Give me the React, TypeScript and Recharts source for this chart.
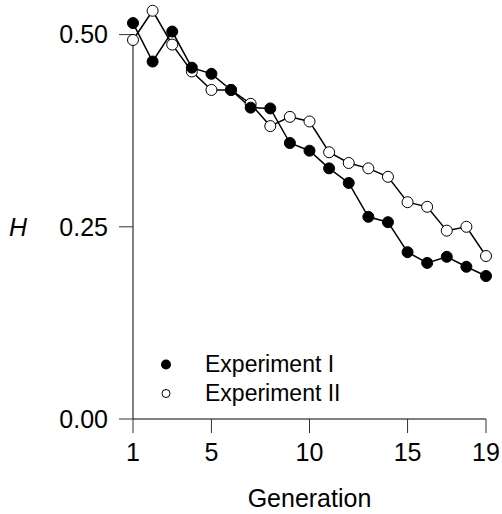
import React from 'react';
import { LineChart, Line, XAxis, YAxis, ReferenceLine, Legend, Label } from 'recharts';

const generations = [1, 2, 3, 4, 5, 6, 7, 8, 9, 10, 11, 12, 13, 14, 15, 16, 17, 18, 19];
const experimentI = [0.515, 0.465, 0.504, 0.457, 0.449, 0.428, 0.405, 0.404, 0.359, 0.349, 0.326, 0.307, 0.263, 0.256, 0.217, 0.203, 0.211, 0.198, 0.186];
const experimentII = [0.493, 0.531, 0.487, 0.452, 0.428, 0.428, 0.410, 0.381, 0.393, 0.387, 0.347, 0.333, 0.326, 0.315, 0.282, 0.276, 0.245, 0.250, 0.212];
const xTicks = [1, 5, 10, 15, 19];
const yTicks = [0, 0.25, 0.5];
const seriesNames = ['Experiment I', 'Experiment II'];

const data = generations.map((g, i) => ({ gen: g, e1: experimentI[i], e2: experimentII[i] }));

const FONT = '"Liberation Sans", Arial, sans-serif';

const LegendContent = () => (
  <div style={{ fontFamily: FONT, fontSize: 23, color: '#000' }}>
    {seriesNames.map((name, i) => (
      <div key={name} style={{ display: 'flex', alignItems: 'center', height: 29, lineHeight: '29px' }}>
        <svg width={32} height={29} style={{ display: 'block' }}>
          {i === 0 ? (
            <circle cx={16} cy={14.5} r={5} fill="#000" />
          ) : (
            <circle cx={16} cy={14.5} r={4} fill="#fff" stroke="#000" strokeWidth={1} />
          )}
        </svg>
        <span style={{ marginLeft: 23, whiteSpace: 'nowrap' }}>{name}</span>
      </div>
    ))}
  </div>
);

const HLabel = (props: any) => {
  const vb = props.viewBox || {};
  const y = vb.y + vb.height * (1 - 0.25 / 0.545);
  return (
    <text x={18} y={y} textAnchor="middle" dominantBaseline="central" fontFamily={FONT} fontSize={25} fontStyle="italic" fill="#000">
      H
    </text>
  );
};

export default function App() {
  return (
    <div style={{ position: 'absolute', left: 0, top: 0, background: '#fff' }}>
      <LineChart width={502} height={514} data={data} margin={{ top: 0, right: 16, left: 0, bottom: 0 }}>
        <XAxis
          dataKey="gen"
          type="number"
          domain={[1, 19]}
          ticks={xTicks}
          height={95}
          tickSize={14}
          tickMargin={10}
          axisLine={{ stroke: '#000', strokeWidth: 1 }}
          tickLine={{ stroke: '#333', strokeWidth: 1 }}
          tick={{ fill: '#000', fontSize: 25, fontFamily: FONT }}
        >
          <Label value="Generation" position="insideBottom" offset={7} fill="#000" fontSize={25} fontFamily={FONT} />
        </XAxis>
        <YAxis
          type="number"
          domain={[0, 0.545]}
          ticks={yTicks}
          width={133}
          tickSize={14}
          tickMargin={11}
          axisLine={false}
          tickLine={{ stroke: '#333', strokeWidth: 1 }}
          tick={{ fill: '#000', fontSize: 25, fontFamily: FONT }}
          tickFormatter={(v: number) => v.toFixed(2)}
          allowDataOverflow
        >
          <Label content={HLabel} />
        </YAxis>
        <ReferenceLine segment={[{ x: 1, y: 0 }, { x: 1, y: 0.5 }]} stroke="#000" strokeWidth={1} />
        <Line
          name={seriesNames[1]}
          dataKey="e2"
          stroke="#000"
          strokeWidth={1.5}
          dot={{ r: 5.5, fill: '#fff', stroke: '#000', strokeWidth: 1 }}
          activeDot={false}
          isAnimationActive={false}
        />
        <Line
          name={seriesNames[0]}
          dataKey="e1"
          stroke="#000"
          strokeWidth={1.5}
          dot={{ r: 5.5, fill: '#000', stroke: '#000', strokeWidth: 1 }}
          activeDot={false}
          isAnimationActive={false}
        />
        <Legend
          layout="vertical"
          align="center"
          verticalAlign="middle"
          content={<LegendContent />}
          wrapperStyle={{ left: 150, top: 349.5, width: 220 }}
        />
      </LineChart>
    </div>
  );
}
